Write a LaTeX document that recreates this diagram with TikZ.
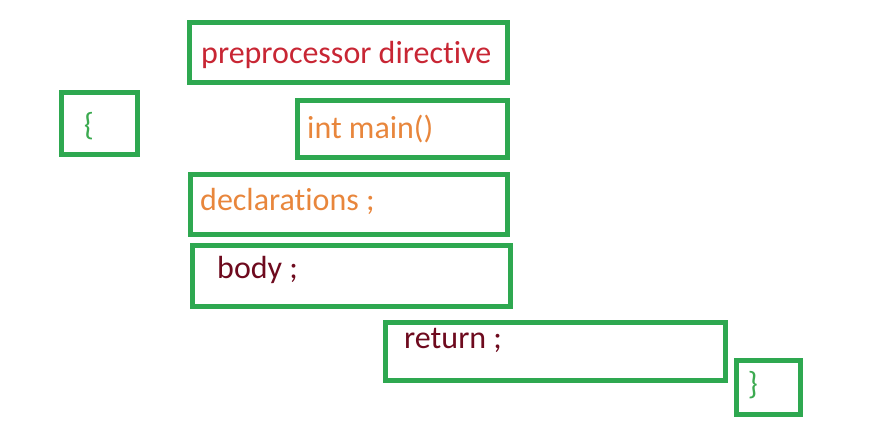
\documentclass[tikz,border=0pt]{standalone}
\usepackage{fontspec}
\setmainfont{Carlito}[RawFeature=-liga]
\usepackage{tikz}

\definecolor{boxgreen}{RGB}{46,168,80}
\definecolor{bracegreen}{RGB}{60,170,80}
\definecolor{prered}{RGB}{200,38,52}
\definecolor{declorange}{RGB}{232,134,60}
\definecolor{bodymaroon}{RGB}{110,10,30}

\tikzset{
    codebox/.style={draw=boxgreen, line width=5pt, anchor=north west, inner sep=0pt},
    codetext/.style={anchor=base west, inner sep=0pt, font=\fontsize{32}{38}\selectfont},
}

\begin{document}
\begin{tikzpicture}[x=1pt, y=-1pt]
    \useasboundingbox (0,0) rectangle (872,426);

    % preprocessor
    \node [codebox,
        minimum width=318pt,
        minimum height=60pt,
    ] (pre) at (187,20) {};
    \node [codetext, text=prered] (pretext) at (201,63) {preprocessor directive};

    % open brace
    \node [codebox,
        minimum width=76pt,
        minimum height=62pt,
    ] (open) at (59,90) {};
    \node [codetext, anchor=center, text=bracegreen] (opentext) at (89,126) {\{};

    % main
    \node [codebox,
        minimum width=210pt,
        minimum height=57pt,
    ] (main) at (295,98) {};
    \node [codetext, text=declorange] (maintext) at (307,138) {int main()};

    % declarations
    \node [codebox,
        minimum width=317pt,
        minimum height=60pt,
    ] (decl) at (188,172) {};
    \node [codetext, text=declorange] (decltext) at (200,210) {declarations ;};

    % body
    \node [codebox,
        minimum width=318pt,
        minimum height=61pt,
    ] (body) at (190,243) {};
    \node [codetext, text=bodymaroon] (bodytext) at (217,278) {body ;};

    % return
    \node [codebox,
        minimum width=340pt,
        minimum height=58pt,
    ] (ret) at (383,320) {};
    \node [codetext, text=bodymaroon] (rettext) at (404,348) {return ;};

    % close brace
    \node [codebox,
        minimum width=64pt,
        minimum height=54pt,
    ] (close) at (734,358) {};
    \node [codetext, anchor=center, text=bracegreen] (closetext) at (753,385) {\}};
\end{tikzpicture}
\end{document}
